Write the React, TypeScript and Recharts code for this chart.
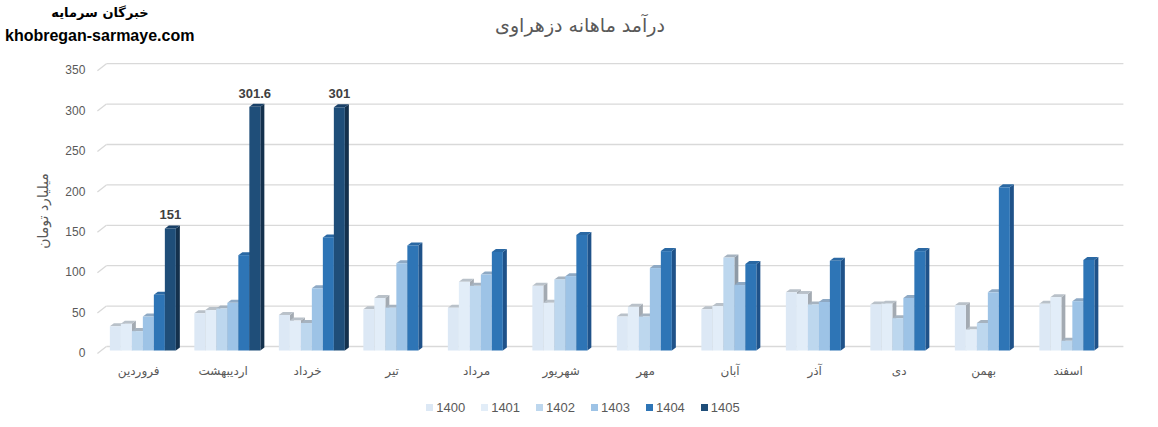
import React from "react";
import { BarChart, Bar, XAxis, YAxis, CartesianGrid, Legend, LabelList } from "recharts";

const months = ["فروردین", "اردیبهشت", "خرداد", "تیر", "مرداد", "شهریور", "مهر", "آبان", "آذر", "دی", "بهمن", "اسفند"];
const v1400 = [30, 46, 44, 51, 53, 80, 42, 51, 72, 57, 56, 58];
const v1401 = [33, 50, 37, 65, 85, 59, 54, 55, 70, 58, 26, 66];
const v1402 = [24, 52, 34, 53, 80, 88, 42, 115, 57, 40, 34, 12];
const v1403 = [42, 59, 77, 108, 94, 92, 102, 81, 60, 65, 72, 61];
const v1404 = [69, 118, 140, 130, 122, 143, 123, 107, 111, 123, 202, 112];
const v1405: (number | null)[] = [151, 301.6, 301, null, null, null, null, null, null, null, null, null];
const yTicks = [0, 50, 100, 150, 200, 250, 300, 350];

const seriesNames = ["1400", "1401", "1402", "1403", "1404", "1405"];
const seriesValues = [v1400, v1401, v1402, v1403, v1404, v1405];
const fronts = ["#DCE8F5", "#E2EDF8", "#BDD7EE", "#9DC3E6", "#2E75B6", "#1F4E79"];
const sides = ["#A3AAB2", "#A3AAB2", "#8E9AA6", "#7893AE", "#1F5289", "#14314D"];
const tops = ["#B9C1C9", "#B9C1C9", "#A6B3C0", "#8EA9C4", "#2A68A3", "#1A4168"];

const data = months.map((m, i) => {
  const row: any = { month: m };
  seriesNames.forEach((s, k) => {
    row["y" + s] = seriesValues[k][i];
  });
  return row;
});

const GRAY = "#595959";
const FA = "'DejaVu Sans', sans-serif";
const LAT = "'Liberation Sans', Arial, sans-serif";

const makeShape = (k: number) => (props: any) => {
  const { x, y, width, height } = props;
  if (height == null || height <= 0 || x == null) return <g />;
  const d = 4;
  const dy = 3;
  return (
    <g>
      <path
        d={`M${x + width},${y} L${x + width + d},${y - dy} L${x + width + d},${y + height - dy} L${x + width},${y + height} Z`}
        fill={sides[k]}
      />
      <path d={`M${x},${y} L${x + d},${y - dy} L${x + width + d},${y - dy} L${x + width},${y} Z`} fill={tops[k]} />
      <rect x={x} y={y} width={width} height={height} fill={fronts[k]} />
    </g>
  );
};

const GridLine = (props: any) => {
  const { x1, x2, y1 } = props;
  return (
    <g>
      <line x1={x1 - 4} y1={y1 + 3} x2={x1 + 5} y2={y1 - 4} stroke="#D9D9D9" strokeWidth={1.3} />
      <line x1={x1 + 5} y1={y1 - 4} x2={x2 + 8} y2={y1 - 4} stroke="#D9D9D9" strokeWidth={1.3} />
    </g>
  );
};

const YTick = (props: any) => {
  const { x, y, payload } = props;
  return (
    <text x={x} y={y + 2.5} dy="0.35em" textAnchor="end" fill={GRAY} fontSize={12} fontFamily={LAT}>
      {payload.value}
    </text>
  );
};

const XTick = (props: any) => {
  const { x, y, payload } = props;
  return (
    <text x={x - 5} y={y + 16} textAnchor="middle" fill={GRAY} fontSize={12} fontFamily={FA}>
      {payload.value}
    </text>
  );
};

const LegendContent = () => (
  <div style={{ display: "flex", justifyContent: "center", alignItems: "center", fontFamily: LAT, fontSize: 13, color: GRAY, paddingLeft: 8, boxSizing: "border-box" }}>
    {seriesNames.map((s, k) => (
      <div key={s} style={{ display: "flex", alignItems: "center", marginRight: k < seriesNames.length - 1 ? 16 : 0 }}>
        <span style={{ display: "inline-block", width: 7, height: 7, background: fronts[k], marginRight: 3 }} />
        <span>{s}</span>
      </div>
    ))}
  </div>
);

export default function App() {
  return (
    <div style={{ position: "absolute", left: 0, top: 0, width: 1158, height: 427, background: "#fff" }}>
      <div style={{ position: "absolute", left: 0, top: 5, width: 200, textAlign: "center", fontFamily: FA, fontWeight: "bold", fontSize: 13, color: "#000" }}>
        خبرگان سرمایه
      </div>
      <div style={{ position: "absolute", left: 5, top: 27, fontFamily: LAT, fontWeight: "bold", fontSize: 16, color: "#000" }}>
        khobregan-sarmaye.com
      </div>
      <div style={{ position: "absolute", left: 0, top: 14, width: 1158, textAlign: "center", fontFamily: FA, fontSize: 19, color: GRAY, paddingLeft: 2, boxSizing: "border-box" }}>
        درآمد ماهانه دزهراوی
      </div>
      <div
        style={{
          position: "absolute",
          left: 43,
          top: 211,
          transform: "translate(-50%, -50%) rotate(-90deg)",
          fontFamily: FA,
          fontSize: 14,
          color: GRAY,
          whiteSpace: "nowrap",
        }}
      >
        میلیارد تومان
      </div>
      <BarChart
        width={1158}
        height={427}
        data={data}
        margin={{ top: 67.7, right: 42.6, bottom: 46.5, left: 0 }}
        barCategoryGap="10%"
        barGap={0}
        style={{ position: "absolute", left: 0, top: 0 }}
      >
        <CartesianGrid vertical={false} horizontal={<GridLine />} />
        <XAxis dataKey="month" axisLine={false} tickLine={false} height={30} tick={<XTick />} interval={0} />
        <YAxis
          domain={[0, 350]}
          ticks={yTicks}
          axisLine={false}
          tickLine={false}
          width={101.4}
          tick={<YTick />}
          tickMargin={10}
        />
        <Legend
          layout="horizontal"
          verticalAlign="middle"
          align="center"
          content={<LegendContent />}
          wrapperStyle={{ top: 400, left: 0, width: 1158 }}
        />
        {seriesNames.map((s, k) => (
          <Bar key={s} dataKey={"y" + s} name={s} fill={fronts[k]} shape={makeShape(k)} isAnimationActive={false}>
            {s === "1405" ? (
              <LabelList
                dataKey={"y" + s}
                position="top"
                offset={9}
                fill="#404040"
                fontSize={13}
                fontWeight="bold"
                fontFamily={LAT}
              />
            ) : null}
          </Bar>
        ))}
      </BarChart>
    </div>
  );
}
